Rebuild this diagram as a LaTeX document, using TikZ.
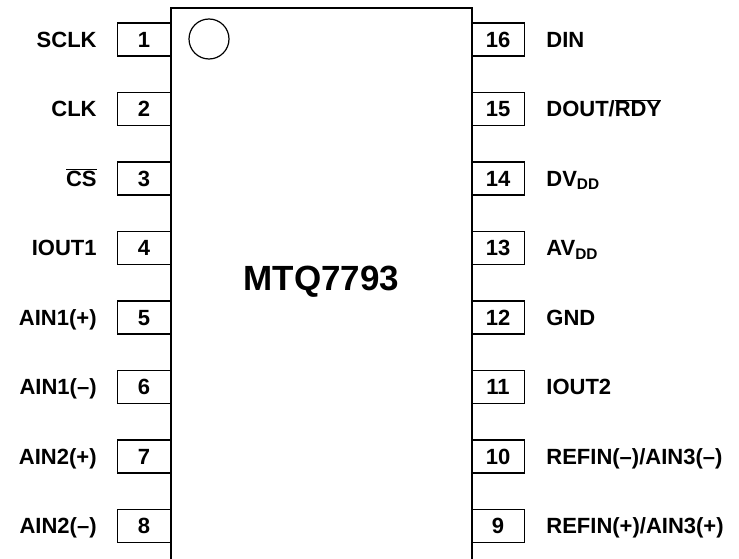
\documentclass[tikz,border=0pt]{standalone}
\usepackage{fontspec}
\setmainfont{Liberation Sans}
\usepackage{tikz}
\usetikzlibrary{positioning}

\tikzset{
    pinbox/.style={draw, line width=1.4pt, minimum width=53pt, minimum height=33pt,
        inner sep=0pt, text height=15.8pt, text depth=0pt},
    pinlabel/.style={inner sep=0pt, text height=15.8pt, text depth=0pt}
}

\begin{document}
\begin{tikzpicture}[
        x=1pt, y=-1pt,
        font=\bfseries\fontsize{22}{26}\selectfont
    ]
        \useasboundingbox (0,0) rectangle (739,559);

        % chip body
        \coordinate (body_tl) at (171,8);
        \coordinate (body_br) at (472,580);
        \draw[line width=1.4pt] (body_tl) rectangle (body_br);
        \node[draw, circle, line width=1.2pt, minimum size=40pt] (notch) at (209,39) {};

        \node[font=\bfseries\fontsize{35}{40}\selectfont] (chipname) at (321.5,282) {MTQ7793};

        % pins
        \foreach \n/\lname in {
            1/SCLK,
            2/CLK,
            3/{$\overline{\mbox{CS}}$},
            4/IOUT1,
            5/AIN1(+),
            6/AIN1(–),
            7/AIN2(+),
            8/AIN2(–)}
        {
            \pgfmathsetmacro{\ypos}{39.5+69.5*(\n-1)}
            \pgfmathtruncatemacro{\m}{17-\n}
            \node[pinbox] (pinL\n) at (144,\ypos) {\n};
            \node[pinbox] (pinR\n) at (498,\ypos) {\m};
            \node[pinlabel, left=20pt of pinL\n] (labL\n) {\lname};
        }

        % right side labels (slashes inside names)
        \node[pinlabel, right=21pt of pinR1] (labR1) {DIN};
        \node[pinlabel, right=21pt of pinR2] (labR2) {DOUT/$\overline{\mbox{RDY}}$};
        \node[pinlabel, right=21pt of pinR3] (labR3) {DV\textsubscript{DD}};
        \node[pinlabel, right=21pt of pinR4] (labR4) {AV\textsubscript{DD}};
        \node[pinlabel, right=21pt of pinR5] (labR5) {GND};
        \node[pinlabel, right=21pt of pinR6] (labR6) {IOUT2};
        \node[pinlabel, right=21pt of pinR7] (labR7) {REFIN(–)/AIN3(–)};
        \node[pinlabel, right=21pt of pinR8] (labR8) {REFIN(+)/AIN3(+)};

    \end{tikzpicture}
\end{document}
